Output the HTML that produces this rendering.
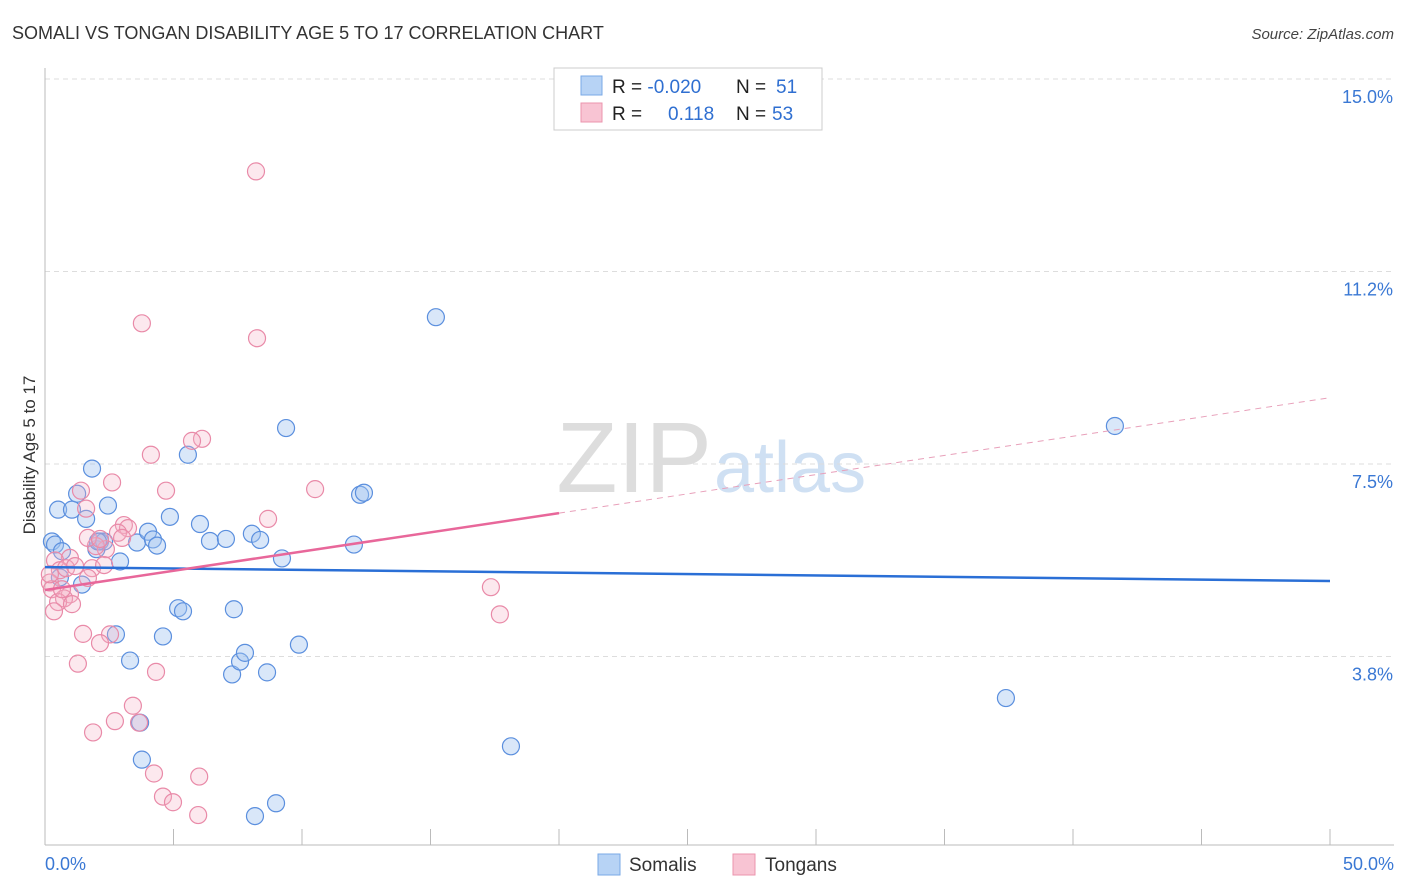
<!DOCTYPE html>
<html><head><meta charset="utf-8">
<style>
body{margin:0;background:#fff;font-family:"Liberation Sans",sans-serif;}
#wrap{position:relative;width:1406px;height:892px;overflow:hidden;}
svg text{font-family:"Liberation Sans",sans-serif;}
</style></head>
<body>
<div id="wrap">
<svg id="chart" width="1406" height="892">
<text x="12" y="39" font-size="18" fill="#333">SOMALI VS TONGAN DISABILITY AGE 5 TO 17 CORRELATION CHART</text>
<text x="1394" y="39" font-size="15" fill="#444" font-style="italic" text-anchor="end">Source: ZipAtlas.com</text>
<text x="35" y="455" font-size="17" fill="#333" transform="rotate(-90 35 455)" text-anchor="middle">Disability Age 5 to 17</text>
<text x="712" y="492" font-size="100" fill="#ddd" text-anchor="end" font-family="Liberation Serif">ZIP</text>
<text x="714" y="492" font-size="72" fill="#cfe0f3">atlas</text>
<g id="grid"></g><g id="axes"></g><g id="pts"></g><g id="lines"></g>
<g>
<rect x="554" y="68" width="268" height="62" fill="#fff" stroke="#ccc"/>
<rect x="581" y="76" width="21" height="19" fill="#b7d3f5" stroke="#7aa8e6"/>
<rect x="581" y="103" width="21" height="19" fill="#f8c4d3" stroke="#eb94ae"/>
<text x="612" y="93" font-size="19" fill="#222">R = <tspan fill="#2f6fd1">-0.020</tspan></text>
<text x="736" y="93" font-size="19" fill="#222">N = </text><text x="776" y="93" font-size="19" fill="#2f6fd1">51</text>
<text x="612" y="120" font-size="19" fill="#222">R = </text><text x="668" y="120" font-size="19" fill="#2f6fd1">0.118</text>
<text x="736" y="120" font-size="19" fill="#222">N = </text><text x="772" y="120" font-size="19" fill="#2f6fd1">53</text>
</g>
<g>
<rect x="598" y="854" width="22" height="21" fill="#b7d3f5" stroke="#7aa8e6"/>
<text x="629" y="871" font-size="19" fill="#333">Somalis</text>
<rect x="733" y="854" width="22" height="21" fill="#f8c4d3" stroke="#eb94ae"/>
<text x="765" y="871" font-size="19" fill="#333">Tongans</text>
</g>
</svg>
</div>
<script>
const yTicks=[15.0,11.25,7.5,3.75];
const yTickLabels=["15.0%","11.2%","7.5%","3.8%"];
const xTickLabels=["0.0%","50.0%"];
const somaliX=[0.27,0.39,0.51,0.66,1.05,1.25,1.6,1.83,2.45,2.0,2.14,2.30,2.92,1.44,2.76,3.31,3.70,3.77,3.58,4.01,4.2,4.36,4.59,4.86,5.18,5.37,5.56,6.03,6.42,7.04,7.28,7.35,7.59,7.78,8.05,8.37,8.17,8.64,8.99,9.22,9.38,9.88,12.02,12.26,12.41,15.21,18.13,37.39,41.63,2.06,0.58];
const somaliY=[5.99,5.93,6.61,5.80,6.61,6.92,6.43,7.41,6.69,5.84,5.99,5.99,5.60,5.15,4.18,3.67,2.46,1.74,5.97,6.18,6.03,5.91,4.14,6.47,4.69,4.63,7.68,6.33,6.00,6.04,3.40,4.67,3.65,3.82,6.14,6.02,0.64,3.44,0.89,5.66,8.20,3.98,5.93,6.90,6.94,10.36,2.00,2.94,8.24,5.99,5.29];
const tonganX=[8.21,3.77,8.25,6.11,5.72,4.12,10.51,4.71,1.40,2.61,1.60,8.68,3.07,3.23,2.84,2.37,1.98,1.67,2.14,0.97,0.39,0.58,0.82,1.17,1.83,2.30,0.19,0.27,0.97,0.74,0.51,1.05,0.35,1.67,17.35,17.70,1.48,2.53,2.14,1.28,4.32,3.42,2.72,3.66,1.87,4.24,6.0,4.59,4.98,5.96,3.00,0.66,0.19];
const tonganY=[13.2,10.24,9.95,7.99,7.95,7.68,7.01,6.98,6.98,7.14,6.63,6.43,6.31,6.25,6.16,5.84,5.90,6.06,6.04,5.67,5.62,5.43,5.47,5.51,5.47,5.53,5.19,5.06,4.96,4.88,4.81,4.77,4.63,5.28,5.10,4.57,4.19,4.18,4.01,3.61,3.45,2.79,2.49,2.46,2.27,1.47,1.41,1.02,0.91,0.66,6.06,5.06,5.35];
const somaliLine=[5.49,5.22];
const tonganLine=[5.045,8.79];
const tonganSolidEnd=20;
const X0=45,X1=1330,YT=79,PPU=51.33;
const sx=v=>X0+(X1-X0)*v/50, sy=v=>YT+(15-v)*PPU;
const NS="http://www.w3.org/2000/svg";
function mk(tag,attrs,parent){const e=document.createElementNS(NS,tag);for(const k in attrs)e.setAttribute(k,attrs[k]);document.getElementById(parent).appendChild(e);return e;}
yTicks.forEach((t,i)=>{
  const l=mk('line',{x1:X0,x2:1394,y1:sy(t),y2:sy(t),stroke:'#ddd','stroke-dasharray':'5,4'},'grid');
  
  
  const tx=mk('text',{x:1393,y:sy(t)+24,'font-size':18,fill:'#3a78d4','text-anchor':'end'},'grid');
  tx.textContent=yTickLabels[i];
  
  
});
const ax=mk('line',{x1:X0,x2:X0,y1:68,y2:845,stroke:'#bbb'},'axes');


const bx=mk('line',{x1:X0,x2:1394,y1:845,y2:845,stroke:'#bbb'},'axes');


for(let i=1;i<=10;i++){
  const t=mk('line',{x1:sx(i*5),x2:sx(i*5),y1:829,y2:845,stroke:'#bbb'},'axes');
  
  
}
[[0,'start',45],[50,'end',1394]].forEach((d,i)=>{
  const t=mk('text',{x:d[2],y:870,'font-size':18,fill:'#3a78d4','text-anchor':d[1]},'axes');
  t.textContent=xTickLabels[i];
  
  
});
somaliX.forEach((x,i)=>{
  const c=mk('circle',{cx:sx(x),cy:sy(somaliY[i]),r:8.5,fill:'rgba(160,196,240,0.4)',stroke:'#5b8fde','stroke-width':1.2},'pts');
  
  
});
tonganX.forEach((x,i)=>{
  const c=mk('circle',{cx:sx(x),cy:sy(tonganY[i]),r:8.5,fill:'rgba(246,180,200,0.3)',stroke:'#e98aa8','stroke-width':1.2},'pts');
  
  
});
const bl=mk('line',{x1:sx(0),y1:sy(somaliLine[0]),x2:sx(50),y2:sy(somaliLine[1]),stroke:'#2a6fd6','stroke-width':2.5},'lines');


const tAt=x=>tonganLine[0]+(tonganLine[1]-tonganLine[0])*x/50;
const pl=mk('line',{x1:sx(0),y1:sy(tAt(0)),x2:sx(tonganSolidEnd),y2:sy(tAt(tonganSolidEnd)),stroke:'#e8679a','stroke-width':2.5},'lines');


const pd=mk('line',{x1:sx(tonganSolidEnd),y1:sy(tAt(tonganSolidEnd)),x2:sx(50),y2:sy(tAt(50)),stroke:'#e8a0ba','stroke-width':1,'stroke-dasharray':'6,5'},'lines');


</script>
</body></html>
